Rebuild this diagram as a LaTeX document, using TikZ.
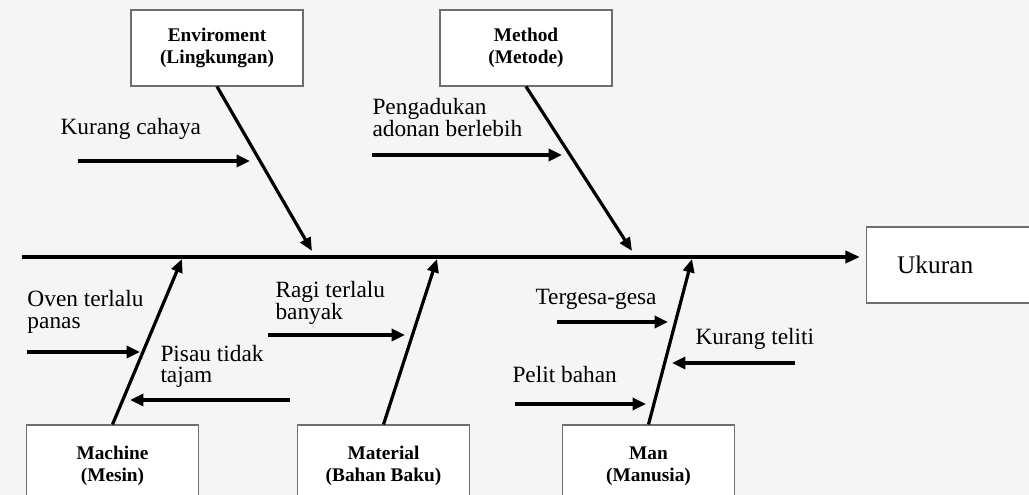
\documentclass[tikz,border=0pt]{standalone}
\usepackage{fontspec}
\setmainfont{Liberation Serif}
\usetikzlibrary{arrows.meta}

\definecolor{paper}{RGB}{245,245,245}
\definecolor{frame}{RGB}{110,110,110}

\tikzset{every picture/.style={line width=0.75pt}}
\tikzset{
  catbox/.style={draw=frame, fill=white, line width=0.8pt, minimum width=129pt, align=center,
    font=\bfseries\fontsize{14.5}{16.5}\selectfont},
  causetext/.style={anchor=base west, inner sep=0pt, align=left, font=\fontsize{17.5}{16.5}\selectfont},
  spine/.style={line width=3pt, -{Triangle[length=11pt,width=9pt]}},
  bone/.style={line width=2.4pt, -{Triangle[length=10pt,width=8.5pt]}},
  causearrow/.style={line width=2.8pt, -{Triangle[length=10pt,width=9pt]}}
}

\begin{document}
\begin{tikzpicture}[x=0.75pt,y=0.75pt,yscale=-1,xscale=1]
\useasboundingbox (0,0) rectangle (1029,495);
\clip (0,0) rectangle (1029,495);
\fill [paper] (0,0) rectangle (1029,495);

% category boxes
\node [catbox, minimum height=57pt] (env) at (217,48) {Enviroment\\(Lingkungan)};
\node [catbox, minimum height=57pt] (meth) at (526,48) {Method\\(Metode)};
\node [catbox, minimum height=61.5pt] (mach) at (112.5,466) {Machine\\(Mesin)};
\node [catbox, minimum height=61.5pt] (mat) at (383.5,466) {Material\\(Bahan Baku)};
\node [catbox, minimum height=61.5pt] (man) at (648.5,466) {Man\\(Manusia)};

% effect box
\node [draw=frame, fill=white, line width=0.8pt, anchor=west, minimum width=130pt, minimum height=57pt,
  text width=84pt, inner xsep=23pt, align=left, font=\fontsize{19}{21}\selectfont] (ukuran) at (866,265) {Ukuran};

% spine
\coordinate (tail) at (22,257);
\draw [spine, shorten >=4.5pt] (tail) -- (ukuran.west |- tail);

% bones
\coordinate (envend) at (312,251);
\coordinate (methend) at (632,251);
\coordinate (machend) at (182,259);
\coordinate (matend) at (437,259);
\coordinate (manend) at (692,259);
\draw [bone] (env.south) -- (envend);
\draw [bone] (meth.south) -- (methend);
\draw [bone] (mach.north) -- (machend);
\draw [bone] (mat.north) -- (matend);
\draw [bone] (man.north) -- (manend);

% causes (two-line labels sit on their last line)
\node [causetext] (cahaya) at (60,135) {Kurang cahaya};
\coordinate (c1a) at (78,161);
\coordinate (c1b) at (250,161);
\draw [causearrow] (c1a) -- (c1b);

\node [causetext] (adonan) at (372,137) {Pengadukan\\adonan berlebih};
\coordinate (c2a) at (372,155);
\coordinate (c2b) at (562,155);
\draw [causearrow] (c2a) -- (c2b);

\node [causetext] (oven) at (27,329) {Oven terlalu\\panas};
\coordinate (c3a) at (27,352);
\coordinate (c3b) at (140,352);
\draw [causearrow] (c3a) -- (c3b);

\node [causetext] (pisau) at (160,383) {Pisau tidak\\tajam};
\coordinate (c4a) at (290,400);
\coordinate (c4b) at (130,400);
\draw [causearrow] (c4a) -- (c4b);

\node [causetext] (ragi) at (275,320) {Ragi terlalu\\banyak};
\coordinate (c5a) at (268,335);
\coordinate (c5b) at (405,335);
\draw [causearrow] (c5a) -- (c5b);

\node [causetext] (tergesa) at (535,305) {Tergesa-gesa};
\coordinate (c6a) at (557,322);
\coordinate (c6b) at (668,322);
\draw [causearrow] (c6a) -- (c6b);

\node [causetext] (teliti) at (695,345) {Kurang teliti};
\coordinate (c7a) at (795,363);
\coordinate (c7b) at (672,363);
\draw [causearrow] (c7a) -- (c7b);

\node [causetext] (pelit) at (512,383) {Pelit bahan};
\coordinate (c8a) at (515,404);
\coordinate (c8b) at (646,404);
\draw [causearrow] (c8a) -- (c8b);

\end{tikzpicture}
\end{document}
